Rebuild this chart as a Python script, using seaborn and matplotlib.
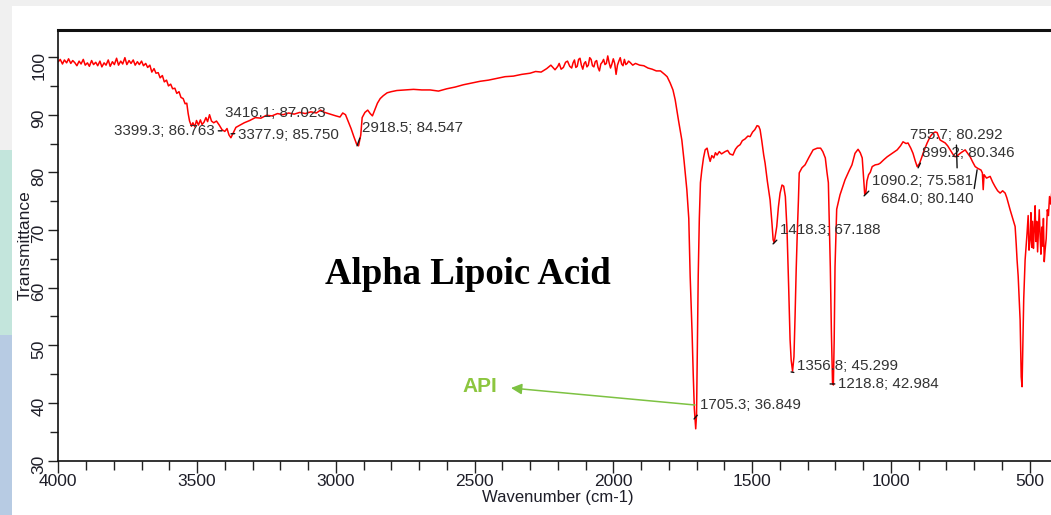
import matplotlib
matplotlib.use("Agg")
import matplotlib.pyplot as plt
import seaborn as sns
import pandas as pd
from matplotlib.patches import Rectangle
from matplotlib.ticker import MultipleLocator

# ---------------- data ----------------
# O-H / C-H region (4000-2800 cm-1)
wn_high = [
    4000, 3993, 3985, 3978, 3970, 3963, 3955, 3948, 3940, 3933, 3925, 3918, 3910, 3903,
    3895, 3888, 3880, 3873, 3865, 3858, 3850, 3843, 3835, 3828, 3820, 3813, 3805, 3798,
    3790, 3783, 3775, 3768, 3760, 3753, 3745, 3738, 3730, 3723, 3715, 3708, 3700, 3693,
    3685, 3678, 3670, 3663, 3655, 3648, 3640, 3633, 3625, 3618, 3610, 3603, 3595, 3588,
    3580, 3573, 3565, 3558, 3550, 3543, 3537, 3532, 3527, 3520, 3515, 3508, 3502, 3495,
    3488, 3482, 3475, 3468, 3462, 3455, 3448, 3440, 3430, 3420, 3410, 3400, 3392, 3385,
    3378, 3370, 3360, 3345, 3330, 3310, 3290, 3270, 3250, 3230, 3210, 3190, 3170, 3150,
    3130, 3110, 3090, 3070, 3055, 3040, 3020, 3000, 2985, 2975, 2965, 2955, 2945, 2935,
    2925, 2918, 2910, 2905, 2895, 2885, 2876, 2868, 2860, 2850, 2840, 2829, 2815, 2800,
]
tr_high = [
    99.2, 99.6, 98.8, 99.5, 99.0, 99.7, 98.9, 99.4, 99.0, 98.5, 99.3, 98.8, 99.6, 98.6,
    99.0, 98.4, 99.4, 98.7, 99.1, 98.5, 99.3, 98.3, 99.0, 98.6, 99.5, 98.4, 99.2, 98.7,
    99.8, 98.6, 99.3, 98.8, 99.9, 98.7, 99.4, 98.9, 99.5, 98.6, 99.2, 98.7, 99.3, 98.5,
    98.9, 98.2, 98.6, 97.4, 98.0, 97.2, 97.3, 96.4, 96.8, 95.7, 96.0, 95.0, 95.3, 94.5,
    94.6, 93.7, 94.0, 93.0, 92.8, 91.9, 92.0, 90.2, 88.9, 88.0, 88.6, 87.9, 89.0, 88.2,
    89.1, 88.3, 88.7, 89.5, 88.8, 90.0, 88.9, 88.6, 88.9, 88.2, 87.4, 87.1, 87.6, 86.5,
    86.0, 86.8, 87.8, 88.2, 88.6, 89.0, 89.5, 89.4, 89.9, 89.8, 90.2, 90.0, 90.3, 90.1,
    90.4, 90.2, 90.5, 90.3, 90.8, 90.4, 90.1, 89.8, 89.6, 90.3, 90.0, 88.8, 87.6, 86.2,
    84.9, 84.6, 86.5, 89.5, 90.4, 90.8, 90.2, 89.8, 90.8, 92.0, 92.8, 93.3, 93.8, 94.0,
]

# baseline and C=O region (2780-1600 cm-1)
wn_mid = [
    2780, 2750, 2720, 2690, 2660, 2630, 2600, 2570, 2540, 2510, 2480, 2450, 2420, 2390,
    2360, 2330, 2300, 2280, 2260, 2240, 2225, 2210, 2200, 2195, 2188, 2180, 2172, 2165,
    2157, 2150, 2145, 2140, 2135, 2130, 2125, 2120, 2115, 2110, 2105, 2100, 2095, 2090,
    2085, 2080, 2075, 2070, 2065, 2060, 2055, 2050, 2045, 2040, 2035, 2030, 2025, 2020,
    2015, 2010, 2005, 2000, 1995, 1990, 1985, 1980, 1975, 1970, 1965, 1960, 1955, 1950,
    1945, 1940, 1930, 1920, 1905, 1890, 1875, 1860, 1845, 1830, 1815, 1806, 1795, 1785,
    1777, 1765, 1753, 1745, 1735, 1728, 1723, 1716, 1712, 1708, 1703, 1700, 1697, 1694,
    1690, 1686, 1681, 1675, 1669, 1662, 1656, 1651, 1645, 1638, 1632, 1626, 1618, 1610,
]
tr_mid = [
    94.2, 94.3, 94.4, 94.3, 94.3, 94.1, 94.5, 94.8, 95.2, 95.5, 95.8, 96.0, 96.3, 96.6,
    96.7, 97.0, 97.2, 97.5, 97.4, 98.0, 98.6, 97.8, 98.4, 98.9, 97.9, 98.2, 99.1, 99.3,
    98.4, 98.1, 99.0, 99.5, 98.2, 98.4, 99.6, 99.8, 98.6, 97.9, 98.9, 99.2, 98.3, 98.6,
    99.9, 99.6, 98.5, 98.3, 99.2, 99.4, 98.2, 97.6, 98.8, 99.1, 99.6, 98.7, 98.9, 100.2,
    99.0, 98.1, 98.8, 99.7, 98.9, 97.0, 98.6, 99.3, 99.9, 98.8, 98.5, 99.6, 98.7, 98.9,
    99.3, 99.1, 98.6, 98.9, 98.6, 98.5, 98.1, 97.9, 97.6, 97.6, 97.0, 96.6, 95.5, 94.3,
    92.6, 89.0, 85.6, 82.0, 77.0, 72.0, 62.0, 52.0, 45.0, 39.0, 35.5, 38.0, 50.0, 62.0,
    72.0, 78.2, 80.4, 82.5, 83.9, 84.2, 82.8, 81.9, 82.9, 82.5, 83.4, 83.0, 83.6, 83.2,
]

# fingerprint region (1600-400 cm-1)
wn_low = [
    1597, 1588, 1580, 1569, 1560, 1552, 1543, 1535, 1525, 1515, 1507, 1498, 1490,
    1482, 1476, 1471, 1465, 1458, 1453, 1445, 1435, 1428, 1424, 1420, 1416, 1411, 1405,
    1399, 1392, 1386, 1380, 1374, 1368, 1363, 1359, 1354, 1349, 1345, 1341, 1337, 1333,
    1330, 1320, 1309, 1295, 1280, 1265, 1253, 1245, 1236, 1230, 1225, 1221, 1218, 1214,
    1210, 1207, 1204, 1201, 1195, 1183, 1165, 1150, 1140, 1129, 1118, 1110, 1103, 1098,
    1094, 1090, 1086, 1080, 1074, 1067, 1056, 1045, 1038, 1025, 1013, 995, 977, 965,
    956, 945, 938, 928, 920, 912, 905, 897, 890, 880, 869, 858, 848, 840,
    833, 826, 822, 815, 804, 795, 786, 777, 768, 760, 750, 741, 732, 723,
    714, 705, 696, 687, 675, 670, 667, 664, 655, 642, 633, 624, 615, 606,
    597, 588, 582, 577, 570, 563, 557, 552, 548, 545, 541, 538, 534, 530,
    527, 524, 521, 516, 512, 509, 505, 502, 498, 495, 492, 489, 486, 483,
    480, 477, 474, 471, 468, 465, 462, 459, 456, 453, 450, 447, 444, 440,
    436, 432, 428, 424, 420, 415, 410, 405,
]
tr_low = [
    83.6, 83.8, 83.2, 83.0, 84.0, 84.5, 84.8, 85.5, 85.8, 86.3, 86.2, 87.0, 87.4,
    88.1, 88.0, 87.4, 85.5, 83.0, 81.6, 78.5, 75.2, 71.0, 68.3, 67.8, 69.0, 70.6, 74.0,
    76.4, 77.8, 77.6, 75.8, 70.0, 60.0, 51.0, 47.4, 45.5, 48.0, 55.0, 63.0, 69.5, 75.0,
    79.9, 80.8, 81.3, 82.6, 83.9, 84.2, 84.2, 83.6, 82.5, 80.0, 78.2, 70.0, 63.6, 52.1,
    43.5, 43.1, 50.9, 63.6, 73.6, 76.1, 78.7, 80.3, 81.3, 83.3, 84.0, 83.4, 82.5, 79.0,
    76.2, 76.4, 78.5, 79.6, 80.0, 81.0, 81.3, 81.4, 81.6, 82.2, 82.7, 83.3, 83.9, 84.6,
    85.3, 85.0, 85.1, 84.2, 83.3, 82.0, 81.0, 81.5, 82.4, 83.8, 85.1, 86.2, 86.8, 87.0,
    86.9, 86.0, 85.6, 85.4, 85.1, 84.6, 83.9, 83.2, 82.7, 82.9, 83.3, 83.6, 83.9, 83.3,
    82.7, 81.8, 81.0, 80.7, 80.4, 79.9, 77.0, 79.6, 79.0, 79.3, 78.3, 77.5, 76.8, 76.4,
    76.8, 76.4, 75.6, 74.7, 73.5, 72.3, 71.4, 70.6, 67.5, 64.8, 62.0, 59.0, 54.4, 44.5,
    42.8, 50.0, 58.0, 64.8, 67.5, 69.4, 72.5, 66.5, 68.3, 73.0, 67.0, 71.5, 66.8, 70.0,
    74.2, 68.0, 71.5, 66.2, 69.8, 73.5, 68.9, 65.8, 70.5, 67.2, 72.0, 64.5, 66.5, 68.5,
    73.5, 72.5, 75.8, 74.5, 76.5, 77.0, 78.0, 77.5,
]

peak_labels = ["3399.3; 86.763", "3416.1; 87.023", "3377.9; 85.750", "2918.5; 84.547",
               "1705.3; 36.849", "1418.3; 67.188", "1356.8; 45.299", "1218.8; 42.984",
               "1090.2; 75.581", "899.2; 80.346", "755.7; 80.292", "684.0; 80.140"]

x_major_ticks = [4000, 3500, 3000, 2500, 2000, 1500, 1000, 500]
y_major_ticks = [30, 40, 50, 60, 70, 80, 90, 100]

title_text = "Alpha Lipoic Acid"
api_text = "API"
x_label = "Wavenumber (cm-1)"
y_label = "Transmittance"

assert len(wn_high) == len(tr_high)
assert len(wn_mid) == len(tr_mid)
assert len(wn_low) == len(tr_low)
df = pd.DataFrame({"wavenumber": wn_high + wn_mid + wn_low,
                   "transmittance": tr_high + tr_mid + tr_low})

# ---------------- styling ----------------
sns.set_theme(style="white")
plt.rcParams['font.family'] = ['Liberation Sans', 'DejaVu Sans']

W, H = 1051, 515
fig = plt.figure(figsize=(W / 100, H / 100), dpi=100, facecolor='#f0f0f0')


def px_rect(x0, y0, x1, y1, color):
    fig.add_artist(Rectangle((x0 / W, 1 - y1 / H), (x1 - x0) / W, (y1 - y0) / H,
                             transform=fig.transFigure, facecolor=color,
                             edgecolor='none', zorder=-5))


# slide background pieces
px_rect(0, 150, 12, 335, '#c3e5dc')
px_rect(0, 335, 12, 515, '#b7cbe3')
px_rect(12, 6, 1051, 515, '#ffffff')

ax = fig.add_axes([58.3 / W, 1 - 460.5 / H, 999 / W, 430.5 / H])
ax.set_facecolor('white')

sns.lineplot(data=df, x="wavenumber", y="transmittance", ax=ax, color='#ff0000',
             linewidth=1.1, estimator=None, sort=True)

ax.set_xlim(4000, 400)
ax.set_ylim(30, 104.7)
ax.set_xticks(x_major_ticks)
ax.set_yticks(y_major_ticks)
ax.xaxis.set_minor_locator(MultipleLocator(100))
ax.yaxis.set_minor_locator(MultipleLocator(5))

ax.tick_params(which='both', direction='out', bottom=True, left=True, top=False,
               right=False, color='#222222', width=1.0, labelcolor='#1e1e28')
ax.tick_params(axis='x', which='major', length=8.5, labelsize=12.5, pad=1)
ax.tick_params(axis='x', which='minor', length=6.5)
ax.tick_params(axis='y', which='major', length=7.5, labelsize=12.5, pad=1,
               labelrotation=90)
ax.tick_params(axis='y', which='minor', length=5.5)

for sp in ax.spines.values():
    sp.set_visible(True)
    sp.set_color('#111111')
    sp.set_linewidth(1.2)
ax.spines['top'].set_linewidth(2.2)

ax.set_xlabel(x_label, fontsize=12, color='#1e1e28', labelpad=1)
ax.set_ylabel(y_label, fontsize=12.5, color='#1e1e28')
ax.yaxis.set_label_coords(-0.0255, 0.5)


# ---------------- peak annotations ----------------
def wn(px):
    return 4000 - (px - 58.3) * 3.604


def tr(py):
    return 30 + (460.5 - py) / 5.76


# (text px, text py, ha, point px, point py, relpos) -- layout in pixels
layout = [
    (215, 131, 'right', 222, 131, (1, 0.5)),
    (225, 113, 'left', None, None, None),
    (238, 135, 'left', 231, 134, (0, 0.6)),
    (362, 128, 'left', 357, 146, (0, 0.2)),
    (700, 405, 'left', 694, 419, (0, 0)),
    (780, 230, 'left', 773, 244, (0, 0)),
    (797, 366, 'left', 791, 372, (0, 0)),
    (838, 384, 'left', 830, 384, (0, 0.5)),
    (872, 181, 'left', 864, 196, (0, 0)),
    (922, 153, 'left', 918, 168, (0, 0)),
    (910, 135, 'left', 957, 168, (0.5, 0)),
    (881, 199, 'left', 977, 170, (1, 1)),
]
for label, (tx, ty, ha, mx, my, rp) in zip(peak_labels, layout):
    if mx is None:
        ax.text(wn(tx), tr(ty), label, ha=ha, va='center', fontsize=10.9,
                color='#333333', zorder=5)
    else:
        ax.annotate(label, xy=(wn(mx), tr(my)), xytext=(wn(tx), tr(ty)),
                    ha=ha, va='center', fontsize=10.9, color='#333333', zorder=5,
                    arrowprops=dict(arrowstyle='-', color='#111111', lw=1.0,
                                    shrinkA=0, shrinkB=0, relpos=rp))

# ---------------- title and API arrow ----------------
fig.text(468 / W, 1 - 274 / H, title_text, ha='center', va='center',
         fontsize=26.5, fontweight='bold', family=['Liberation Serif', 'DejaVu Serif'],
         color='black')
fig.text(480 / W, 1 - 386 / H, api_text, ha='center', va='center', fontsize=15,
         fontweight='bold', color='#8cc63f')
ax.annotate('', xy=(511, H - 388), xycoords='figure pixels',
            xytext=(695, H - 405), textcoords='figure pixels',
            arrowprops=dict(arrowstyle='-|>', color='#7dc242', lw=1.1,
                            mutation_scale=16, shrinkA=0, shrinkB=0))

fig.savefig("out.png", dpi=100, facecolor=fig.get_facecolor())
